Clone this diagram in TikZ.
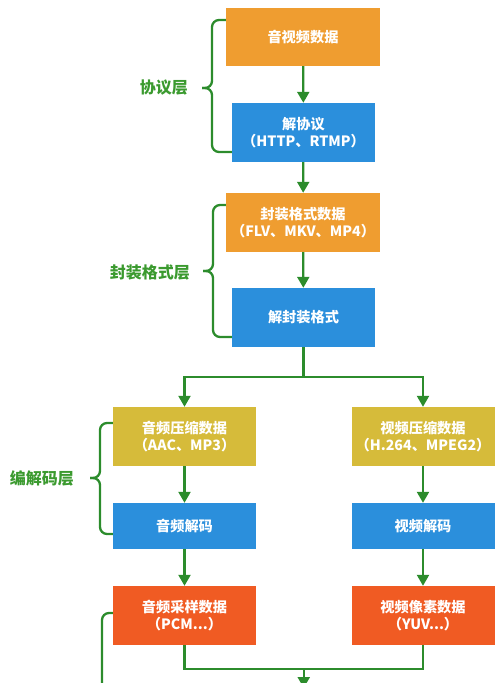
\documentclass[tikz,border=0pt]{standalone}
\usepackage{fontspec}
\setmainfont{Noto Sans CJK SC}
\usetikzlibrary{arrows.meta}
\definecolor{cOrange}{RGB}{239,157,48}
\definecolor{cBlue}{RGB}{43,143,220}
\definecolor{cYellow}{RGB}{214,187,58}
\definecolor{cRed}{RGB}{240,91,35}
\definecolor{cLine}{RGB}{44,140,44}
\definecolor{cLabel}{RGB}{59,154,47}
\tikzset{
  box/.style={draw=none, text=white, font=\bfseries\fontsize{14.2}{17}\selectfont,
    align=center, inner sep=0pt, minimum width=#1},
  box/.default=143pt,
  conn/.style={draw=cLine, line width=2.3pt},
  arr/.style={conn, -{Triangle[width=12pt,length=11pt]}},
  bracepath/.style={draw=cLine, line width=2.3pt, rounded corners=7pt},
  layerlabel/.style={text=cLabel, font=\bfseries\fontsize{16}{19}\selectfont, inner sep=0pt}
}
\begin{document}
\begin{tikzpicture}[x=1pt,y=-1pt]
\useasboundingbox (0,0) rectangle (500,683);
\clip (0,0) rectangle (500,683);
% boxes
\node[box=154pt, minimum height=58pt, fill=cOrange] (b1) at (303,37) {音视频数据};
\node[box, minimum height=59pt, fill=cBlue] (b2) at (303.5,132.5) {解协议\\（HTTP、RTMP）};
\node[box=154pt, minimum height=59pt, fill=cOrange] (b3) at (303,222.5) {封装格式数据\\（FLV、MKV、MP4）};
\node[box, minimum height=59pt, fill=cBlue] (b4) at (303.5,317.5) {解封装格式};
\node[box, minimum height=59pt, fill=cYellow] (b5) at (184.5,436.5) {音频压缩数据\\（AAC、MP3）};
\node[box, minimum height=46pt, fill=cBlue] (b6) at (184.5,526) {音频解码};
\node[box, minimum height=59pt, fill=cRed] (b7) at (184.5,615.5) {音频采样数据\\（PCM...）};
\node[box, minimum height=59pt, fill=cYellow] (r5) at (423,436.5) {视频压缩数据\\（H.264、MPEG2）};
\node[box, minimum height=46pt, fill=cBlue] (r6) at (423,526) {视频解码};
\node[box, minimum height=59pt, fill=cRed] (r7) at (423,615.5) {视频像素数据\\（YUV...）};
% arrows
\draw[arr] (b1) -- (b2);
\draw[arr] (b2) -- (b3);
\draw[arr] (b3) -- (b4);
\coordinate (split) at (303.5,377);
\draw[conn] (b4.south) -- (split);
\draw[arr] (split) -| (b5.north);
\draw[arr] (split) -| (r5.north);
\draw[arr] (b5) -- (b6);
\draw[arr] (b6) -- (b7);
\draw[arr] (r5) -- (r6);
\draw[arr] (r6) -- (r7);
\coordinate (join) at (303.75,669);
\coordinate (joinend) at (303.75,688);
\draw[conn] (b7.south) |- (join);
\draw[conn] (r7.south) |- (join);
\draw[arr] (join) -- (joinend);
% braces
\draw[bracepath] (b1.west |- 0,20) -- (212,20) -- (212,88) -- (202,88);
\draw[bracepath] (202,88) -- (212,88) -- (212,152) -- (b2.west |- 0,152);
\draw[bracepath] (b3.west |- 0,205) -- (213,205) -- (213,271) -- (203,271);
\draw[bracepath] (203,271) -- (213,271) -- (213,337) -- (b4.west |- 0,337);
\draw[bracepath] (b5.west |- 0,423) -- (100,423) -- (100,478) -- (90,478);
\draw[bracepath] (90,478) -- (100,478) -- (100,534) -- (b6.west |- 0,534);
\draw[bracepath] (b7.west |- 0,613) -- (102,613) -- (102,700);
% labels
\node[layerlabel, anchor=east] (l1) at (188,88) {协议层};
\node[layerlabel, anchor=east] (l2) at (190,272) {封装格式层};
\node[layerlabel, anchor=east] (l3) at (74,478) {编解码层};
\end{tikzpicture}
\end{document}
